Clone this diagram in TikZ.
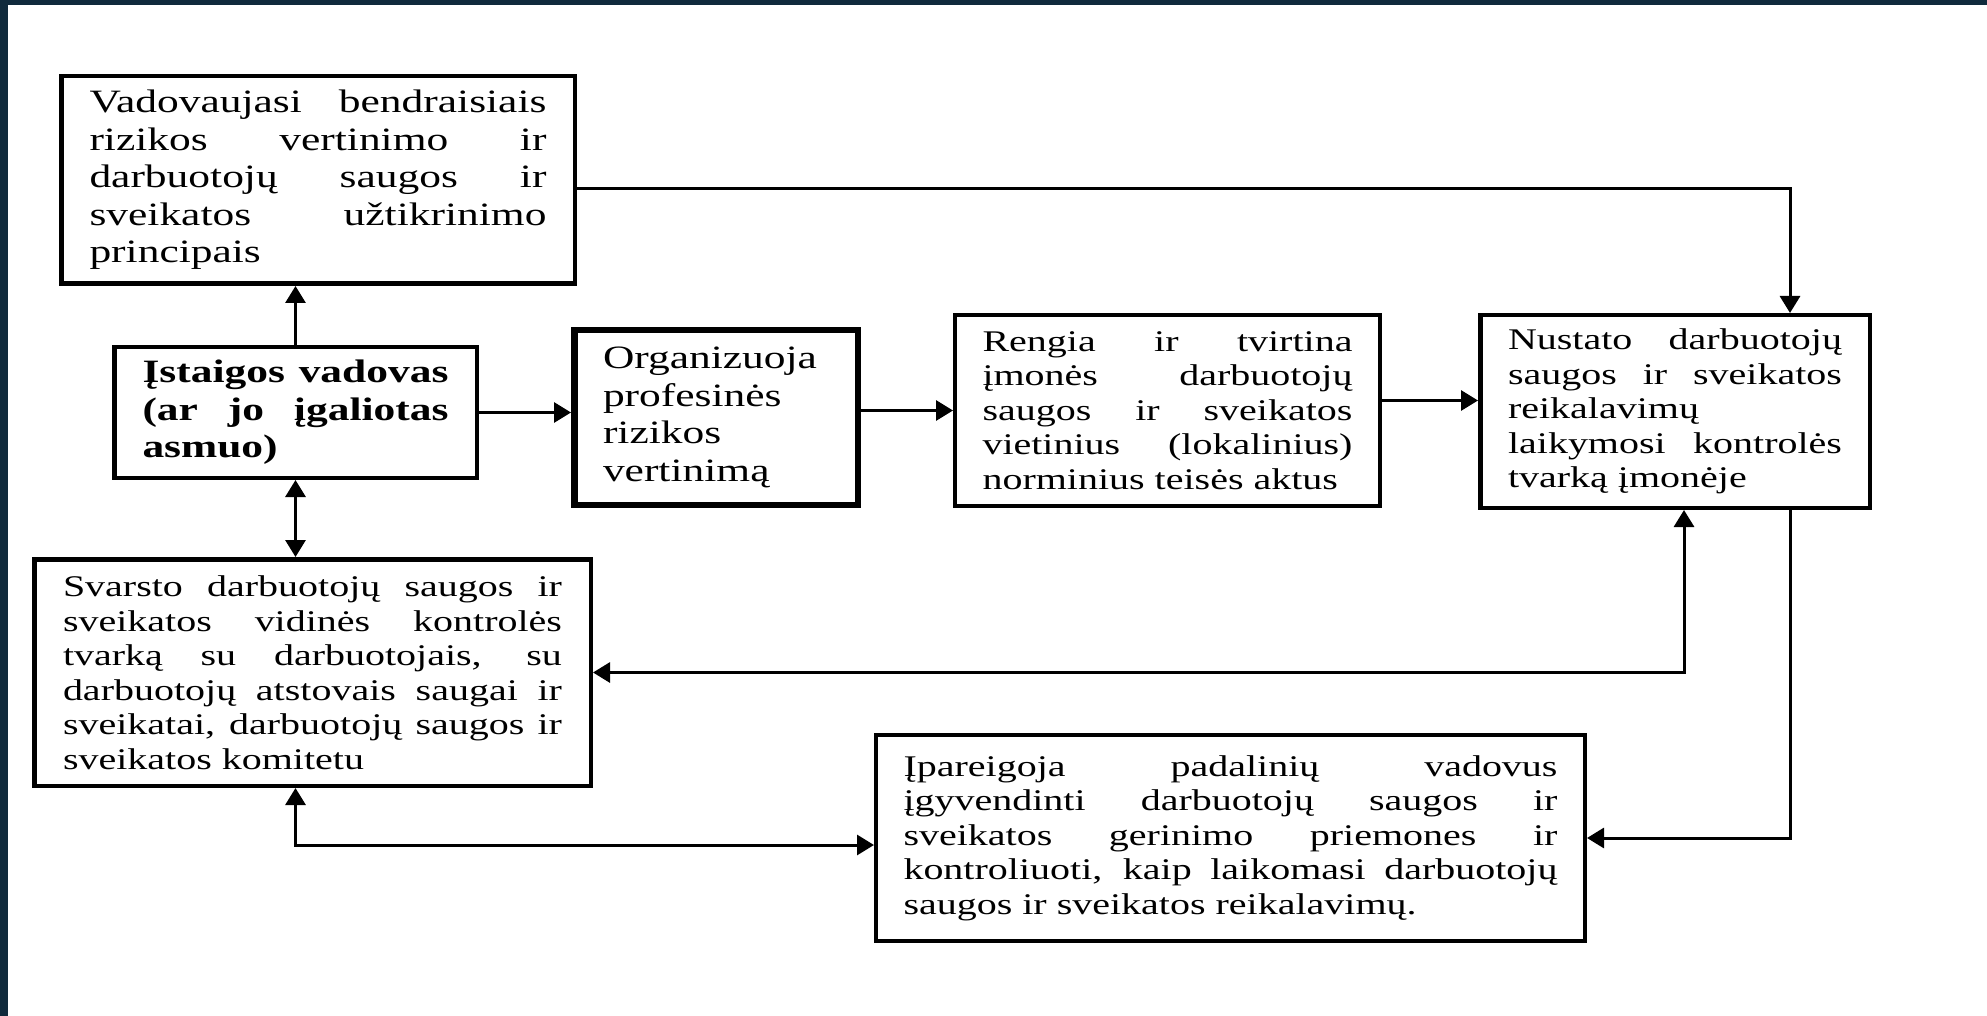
\documentclass[tikz,border=0pt]{standalone}
\usepackage{fontspec}
\setmainfont{Liberation Serif}[FakeStretch=1.333]
\usetikzlibrary{arrows.meta}
\definecolor{edgeblue}{HTML}{102A3C}
\hyphenpenalty=10000
\exhyphenpenalty=10000
\tolerance=10000
\hbadness=10000
\tikzset{
  box/.style={draw, line width=2.25pt, inner sep=0pt, align=justify,
    font=\fontsize{15}{17.25}\selectfont},
  bigtext/.style={font=\fontsize{16.3}{18.75}\selectfont},
  link/.style={line width=1.5pt},
}
\begin{document}
\begin{tikzpicture}[x=0.5pt, y=-0.5pt, >={Triangle[length=8.5pt,width=10pt]}]
    \fill[white] (0,0) rectangle (1987,1016);
    \useasboundingbox (0,0) rectangle (1987,1016);
    \fill[edgeblue] (0,0) rectangle (1987,5);
    \fill[edgeblue] (0,0) rectangle (8,1016);
    % boxes
    \node[box, bigtext, text width=228.5pt, minimum width=256.75pt, minimum height=103.75pt] (principai) at (318,180)
      {Vadovaujasi bendraisiais\linebreak rizikos vertinimo ir\linebreak darbuotojų saugos ir\linebreak sveikatos užtikrinimo\linebreak principais};
    \node[box, font=\fontsize{16.3}{18.75}\selectfont\bfseries, text width=153pt, minimum width=181.25pt, minimum height=65.25pt] (vadovas) at (295.5,412.5)
      {Įstaigos vadovas\linebreak (ar jo įgaliotas\linebreak asmuo)};
    \node[box, bigtext, align=left, line width=3.25pt, text width=113pt, minimum width=141.75pt, minimum height=87.25pt] (rizika) at (716,417.5)
      {Organizuoja\\ profesinės\\ rizikos\\ vertinimą};
    \node[box, line width=2pt, text width=185pt, minimum width=212.5pt, minimum height=95.5pt] (aktai) at (1167.5,410.5)
      {Rengia ir tvirtina\linebreak įmonės darbuotojų\linebreak saugos ir sveikatos\linebreak vietinius (lokalinius)\linebreak norminius teisės aktus};
    \node[box, text width=167pt, minimum width=194.75pt, minimum height=96.25pt] (tvarka) at (1675,411.5)
      {Nustato darbuotojų\linebreak saugos ir sveikatos\linebreak reikalavimų\newline laikymosi kontrolės\linebreak tvarką įmonėje};
    \node[box, text width=249.5pt, minimum width=278.25pt, minimum height=113.25pt] (svarsto) at (312.5,672.5)
      {Svarsto darbuotojų saugos ir\linebreak sveikatos vidinės kontrolės\linebreak tvarką su darbuotojais, su\linebreak darbuotojų atstovais saugai ir\linebreak sveikatai, darbuotojų saugos ir\linebreak sveikatos komitetu};
    \node[box, line width=2pt, text width=327pt, minimum width=354.5pt, minimum height=103pt] (ipareigoja) at (1230.5,838)
      {Įpareigoja padalinių vadovus\linebreak įgyvendinti darbuotojų saugos ir\linebreak sveikatos gerinimo priemones ir\linebreak kontroliuoti, kaip laikomasi darbuotojų\linebreak saugos ir sveikatos reikalavimų.};
    % connectors
    \draw[link,->] (vadovas.north) -- (vadovas.north |- principai.south);
    \draw[link,->] (vadovas.east) -- (vadovas.east -| rizika.west);
    \draw[link,->] (rizika.east |- aktai.west) -- (aktai.west);
    \draw[link,->] ([yshift=5pt]aktai.east) -- ([yshift=5pt]aktai.east -| tvarka.west);
    \draw[link,->] ([yshift=-4.5pt]principai.east) -| ([xshift=57.5pt]tvarka.north);
    \draw[link,->] ([xshift=57.5pt]tvarka.south) |- (ipareigoja.east);
    \draw[link,<->] (svarsto.east) -| ([xshift=4.5pt]tvarka.south);
    \draw[link,<->] (vadovas.south) -- (vadovas.south |- svarsto.north);
    \draw[link,<->] (vadovas.south |- svarsto.south) |- ([yshift=-3.5pt]ipareigoja.west);
\end{tikzpicture}
\end{document}
